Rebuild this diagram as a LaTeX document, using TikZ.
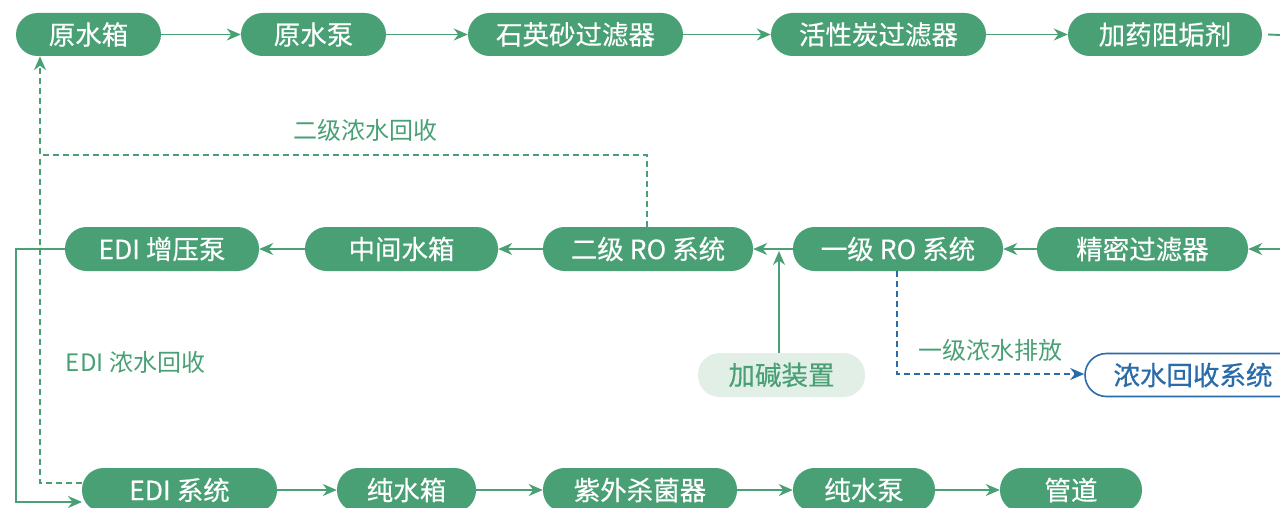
\documentclass[tikz,border=0pt]{standalone}
\usepackage{fontspec}
\setmainfont{Noto Sans CJK SC}
\newfontfamily\medfont[FakeBold=0.35]{Noto Sans CJK SC}
\newfontfamily\semifont[FakeBold=0.7]{Noto Sans CJK SC}
\usetikzlibrary{arrows.meta}
\definecolor{gr}{RGB}{73,160,117}
\definecolor{lgr}{RGB}{225,239,231}
\definecolor{bl}{RGB}{42,107,170}
\begin{document}
\begin{tikzpicture}[x=1pt,y=-1pt,
  box/.style={rounded corners=21.5pt, fill=gr, text=white, minimum height=43pt, inner sep=0pt,
    font=\medfont\fontsize{26.5}{31}\selectfont},
  lightbox/.style={box, fill=lgr, text=gr},
  bluebox/.style={box, fill=white, draw=bl, line width=1.6pt, text=bl, font=\semifont\fontsize{26.5}{31}\selectfont},
  lbl/.style={text=gr, inner sep=0pt, font=\fontsize{24}{28}\selectfont},
  flow/.style={draw=gr, line width=1.9pt, -{Stealth[length=14pt,width=12pt,inset=4.5pt]}},
  plain/.style={draw=gr, line width=1.9pt},
  dsh/.style={draw=gr, line width=1.5pt, dash pattern=on 6pt off 4pt},
  bdsh/.style={draw=bl, line width=1.5pt, dash pattern=on 6pt off 4pt, -{Stealth[length=14pt,width=12pt,inset=4.5pt]}}
]
\useasboundingbox (0,0) rectangle (1280,508);
% top row
\node[box, minimum width=145pt] (n1) at (88.5,34.5) {原水箱};
\node[box, minimum width=145pt] (n2) at (313.5,34.5) {原水泵};
\node[box, minimum width=215pt] (n3) at (575.5,34.5) {石英砂过滤器};
\node[box, minimum width=215pt] (n4) at (878.5,34.5) {活性炭过滤器};
\node[box, minimum width=194pt] (n5) at (1165,34.5) {加药阻垢剂};
% middle row
\node[box, minimum width=194pt, minimum height=44pt] (m1) at (162,249) {EDI 增压泵};
\node[box, minimum width=193pt, minimum height=44pt] (m2) at (401.5,249) {中间水箱};
\node[box, minimum width=210pt, minimum height=44pt] (m3) at (648,249) {二级 RO 系统};
\node[box, minimum width=210pt, minimum height=44pt] (m4) at (898,249) {一级 RO 系统};
\node[box, minimum width=211pt, minimum height=44pt] (m5) at (1142.5,249) {精密过滤器};
% side nodes
\node[lightbox, minimum width=167pt, minimum height=44pt] (jj) at (781.5,375) {加碱装置};
\node[bluebox, minimum width=216pt, minimum height=43pt] (ns) at (1193,375) {浓水回收系统};
% bottom row
\node[box, minimum width=195pt, minimum height=44pt] (b1) at (179.5,490) {EDI 系统};
\node[box, minimum width=139pt, minimum height=44pt] (b2) at (406.5,490) {纯水箱};
\node[box, minimum width=194pt, minimum height=44pt] (b3) at (640,490) {紫外杀菌器};
\node[box, minimum width=142pt, minimum height=44pt] (b4) at (864,490) {纯水泵};
\node[box, minimum width=142pt, minimum height=44pt] (b5) at (1071,490) {管道};
% labels
\node[lbl] (l1) at (365,130) {二级浓水回收};
\node[lbl] (l2) at (135.5,362) {EDI 浓水回收};
\node[lbl] (l3) at (990,350) {一级浓水排放};
% coordinates
\coordinate (outR) at (1280,35);
\coordinate (inR) at (1280,249);
\coordinate (c1) at (647,155);
\coordinate (c2) at (40,155);
\coordinate (c3) at (40,483);
\coordinate (c4) at (16,249);
\coordinate (c5) at (16,502);
\coordinate (c6) at (82,502);
\coordinate (c7) at (897,374);
\coordinate (jt) at (779,251);
% top arrows
\draw[flow] (n1) -- (n2);
\draw[flow] (n2) -- (n3);
\draw[flow] (n3) -- (n4);
\draw[flow] (n4) -- (n5);
\draw[plain] ([xshift=6pt]n5.east) -- (outR);
% middle arrows
\draw[flow] (inR) -- (m5);
\draw[flow] (m5) -- (m4);
\draw[flow] (m4) -- (m3);
\draw[flow] (m3) -- (m2);
\draw[flow] (m2) -- (m1);
\draw[flow] (jj.north -| jt) -- (jt);
% bottom arrows
\draw[flow] (b1) -- (b2);
\draw[flow] (b2) -- (b3);
\draw[flow] (b3) -- (b4);
\draw[flow] (b4) -- (b5);
% recycle lines
\draw[dsh, -{Stealth[length=14pt,width=12pt,inset=4.5pt]}] (m3.north -| c1) -- (c1) -- (c2) -- (n1.south -| c2);
\draw[dsh] (b1.west |- c3) -- (c3) -- (c2);
\draw[flow] (m1.west) -- (c4) -- (c5) -- (c6);
\draw[bdsh] (m4.south -| c7) -- (c7) -- (ns.west |- c7);
\end{tikzpicture}
\end{document}
